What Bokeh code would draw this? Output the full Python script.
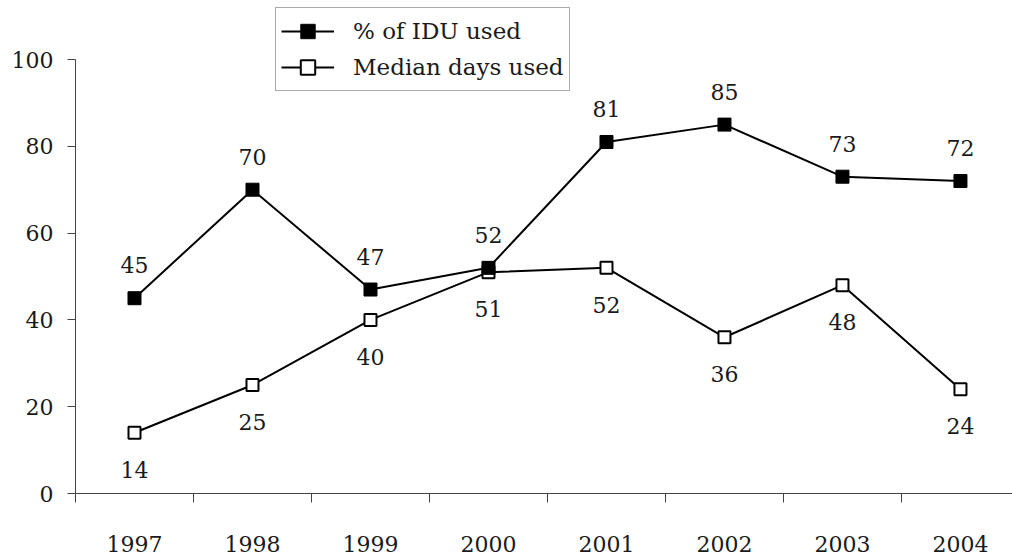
from bokeh.plotting import figure
from bokeh.models import Range1d, FixedTicker, ColumnDataSource, Legend, LegendItem
from bokeh.core.properties import value
from bokeh.embed import file_html
from bokeh.resources import INLINE

years = ["1997", "1998", "1999", "2000", "2001", "2002", "2003", "2004"]
pct_idu_used = [45, 70, 47, 52, 81, 85, 73, 72]
median_days_used = [14, 25, 40, 51, 52, 36, 48, 24]
y_ticks = [0, 20, 40, 60, 80, 100]

FONT = "DejaVu Serif"
NUM_SIZE = "22px"
TXT = "#1a1a1a"
AX = "#444444"

xc = [i + 0.5 for i in range(len(years))]
src = ColumnDataSource(dict(
    x=xc,
    s1=pct_idu_used, s2=median_days_used,
    l1=[str(v) for v in pct_idu_used], l2=[str(v) for v in median_days_used],
))

p = figure(width=1012, height=558, output_backend="svg", toolbar_location=None,
           x_range=Range1d(0, 7.941), y_range=Range1d(0, 113.6),
           min_border_left=75, min_border_right=0, min_border_top=0, min_border_bottom=65)
p.outline_line_color = None
p.xgrid.visible = False
p.ygrid.visible = False
p.background_fill_color = "white"
p.border_fill_color = "white"

# x axis
p.xaxis.ticker = FixedTicker(ticks=xc, minor_ticks=list(range(len(years))))
p.xaxis.major_label_overrides = {x: y for x, y in zip(xc, years)}
p.xaxis.major_tick_out = 0
p.xaxis.major_tick_in = 0
p.xaxis.minor_tick_out = 9
p.xaxis.minor_tick_in = 0
p.xaxis.minor_tick_line_color = AX
p.xaxis.axis_line_color = AX
p.xaxis.major_label_standoff = 33
p.xaxis.major_label_text_font = FONT
p.xaxis.major_label_text_font_size = NUM_SIZE
p.xaxis.major_label_text_color = TXT

# y axis
p.yaxis.ticker = FixedTicker(ticks=y_ticks, minor_ticks=[])
p.yaxis.bounds = (0, 100)
p.yaxis.major_tick_out = 8
p.yaxis.major_tick_in = 0
p.yaxis.minor_tick_out = 0
p.yaxis.minor_tick_in = 0
p.yaxis.major_tick_line_color = AX
p.yaxis.axis_line_color = AX
p.yaxis.major_label_standoff = 14
p.yaxis.major_label_text_font = FONT
p.yaxis.major_label_text_font_size = NUM_SIZE
p.yaxis.major_label_text_color = TXT

# series 2 (open squares)
l2 = p.line("x", "s2", source=src, line_color="black", line_width=2)
m2 = p.scatter("x", "s2", source=src, marker="square", size=12, fill_color="white",
               line_color="black", line_width=2)
# series 1 (filled squares)
l1 = p.line("x", "s1", source=src, line_color="black", line_width=2)
m1 = p.scatter("x", "s1", source=src, marker="square", size=13, fill_color="black",
               line_color="black", line_width=1)

p.text("x", "s1", text="l1", source=src, y_offset=-33, text_align="center",
       text_baseline="middle", text_font=value(FONT), text_font_size=NUM_SIZE, text_color=TXT)
p.text("x", "s2", text="l2", source=src, y_offset=37, text_align="center",
       text_baseline="middle", text_font=value(FONT), text_font_size=NUM_SIZE, text_color=TXT)

legend = Legend(items=[LegendItem(label="% of IDU used", renderers=[l1, m1]),
                       LegendItem(label="Median days used", renderers=[l2, m2])],
                location=(200, 402), orientation="vertical",
                glyph_width=53, glyph_height=36, label_height=36, label_width=204,
                label_standoff=19, padding=5, spacing=0, margin=0,
                label_text_font=FONT, label_text_font_size="23px", label_text_color=TXT,
                border_line_color="#555555", border_line_width=1,
                background_fill_color="white", background_fill_alpha=1)
p.add_layout(legend, "center")

open("out.html", "w").write(file_html(p, INLINE))
